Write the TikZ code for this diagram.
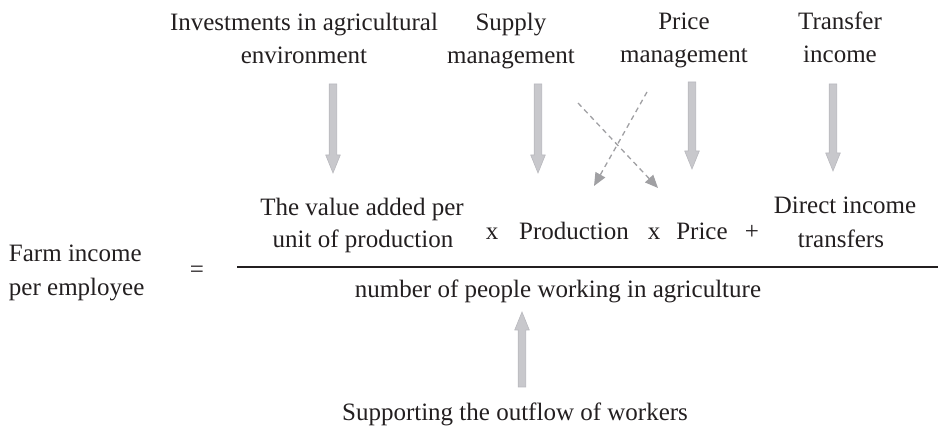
\documentclass[tikz,border=0pt]{standalone}
\usepackage{fontspec}
\setmainfont{Liberation Serif}
\usetikzlibrary{calc,arrows.meta}
\definecolor{txt}{RGB}{35,31,32}
\definecolor{bafill}{RGB}{200,200,204}
\definecolor{bastroke}{RGB}{185,185,190}
\definecolor{dashgray}{RGB}{160,160,163}
\tikzset{
  lbl/.style={inner sep=0pt, outer sep=0pt, text=txt, font=\fontsize{25}{32}\selectfont, anchor=base},
  lblw/.style={lbl, anchor=base west},
  barrow/.style={fill=bafill, draw=bastroke, line width=0.6pt, line join=miter},
  dasharrow/.style={draw=dashgray, line width=1.3pt, dash pattern=on 5pt off 4pt,
    -{Triangle[length=13pt,width=11pt,fill=dashgray]}}
}
\newcommand{\blockarrow}[2]{%
  \path ($(#2)!18pt!(#1)$) coordinate (hb);
  \path[barrow] ($(#1)!3.8pt!90:(#2)$) -- ($(hb)!3.8pt!90:(#2)$) -- ($(hb)!7.3pt!90:(#2)$) -- (#2)
    -- ($(hb)!7.3pt!-90:(#2)$) -- ($(hb)!3.8pt!-90:(#2)$) -- ($(#1)!3.8pt!-90:(#2)$) -- cycle;
}
\begin{document}
\begin{tikzpicture}[x=1pt,y=-1pt]
\useasboundingbox (0,0) rectangle (938,427);
% top labels
\node[lbl] (inv1) at (304,31) {Investments in agricultural};
\node[lbl] (inv2) at (304,64) {environment};
\node[lbl] (sup1) at (511,31) {Supply};
\node[lbl] (sup2) at (511,64) {management};
\node[lbl] (pri1) at (684,30) {Price};
\node[lbl] (pri2) at (684,63) {management};
\node[lbl] (tra1) at (840,30) {Transfer};
\node[lbl] (tra2) at (840,63) {income};
% numerator
\node[lbl] (va1) at (362,216) {The value added per};
\node[lbl] (va2) at (363,248) {unit of production};
\node[lbl] (x1) at (492,240) {x};
\node[lbl] (prod) at (574,240) {Production};
\node[lbl] (x2) at (654,240) {x};
\node[lbl] (price) at (702,240) {Price};
\node[lbl] (plus) at (752,240) {+};
\node[lbl] (dit1) at (845,214) {Direct income};
\node[lbl] (dit2) at (841,248) {transfers};
% left side
\node[lblw] (fi1) at (9,262) {Farm income};
\node[lblw] (fi2) at (9,296) {per employee};
\node[lbl] (eq) at (197,278) {=};
% fraction line
\coordinate (fl) at (237,267);
\coordinate (fr) at (938,267);
\draw[txt, line width=2pt] (fl) -- (fr);
% denominator
\node[lbl] (den) at (558,298) {number of people working in agriculture};
\node[lbl] (sup) at (515,421) {Supporting the outflow of workers};
% block arrows
\coordinate (a1s) at (333,84);  \coordinate (a1e) at (333,173);
\coordinate (a2s) at (538,84);  \coordinate (a2e) at (538,173);
\coordinate (a3s) at (692,82);  \coordinate (a3e) at (692,169);
\coordinate (a4s) at (833,84);  \coordinate (a4e) at (833,171);
\coordinate (a5s) at (522,387); \coordinate (a5e) at (522,312);
\blockarrow{a1s}{a1e}
\blockarrow{a2s}{a2e}
\blockarrow{a3s}{a3e}
\blockarrow{a4s}{a4e}
\blockarrow{a5s}{a5e}
% dashed crossing arrows
\coordinate (d1s) at (578,103); \coordinate (d1e) at (658,188);
\coordinate (d2s) at (647,92);  \coordinate (d2e) at (594,186);
\draw[dasharrow] (d1s) -- (d1e);
\draw[dasharrow] (d2s) -- (d2e);
\end{tikzpicture}
\end{document}
